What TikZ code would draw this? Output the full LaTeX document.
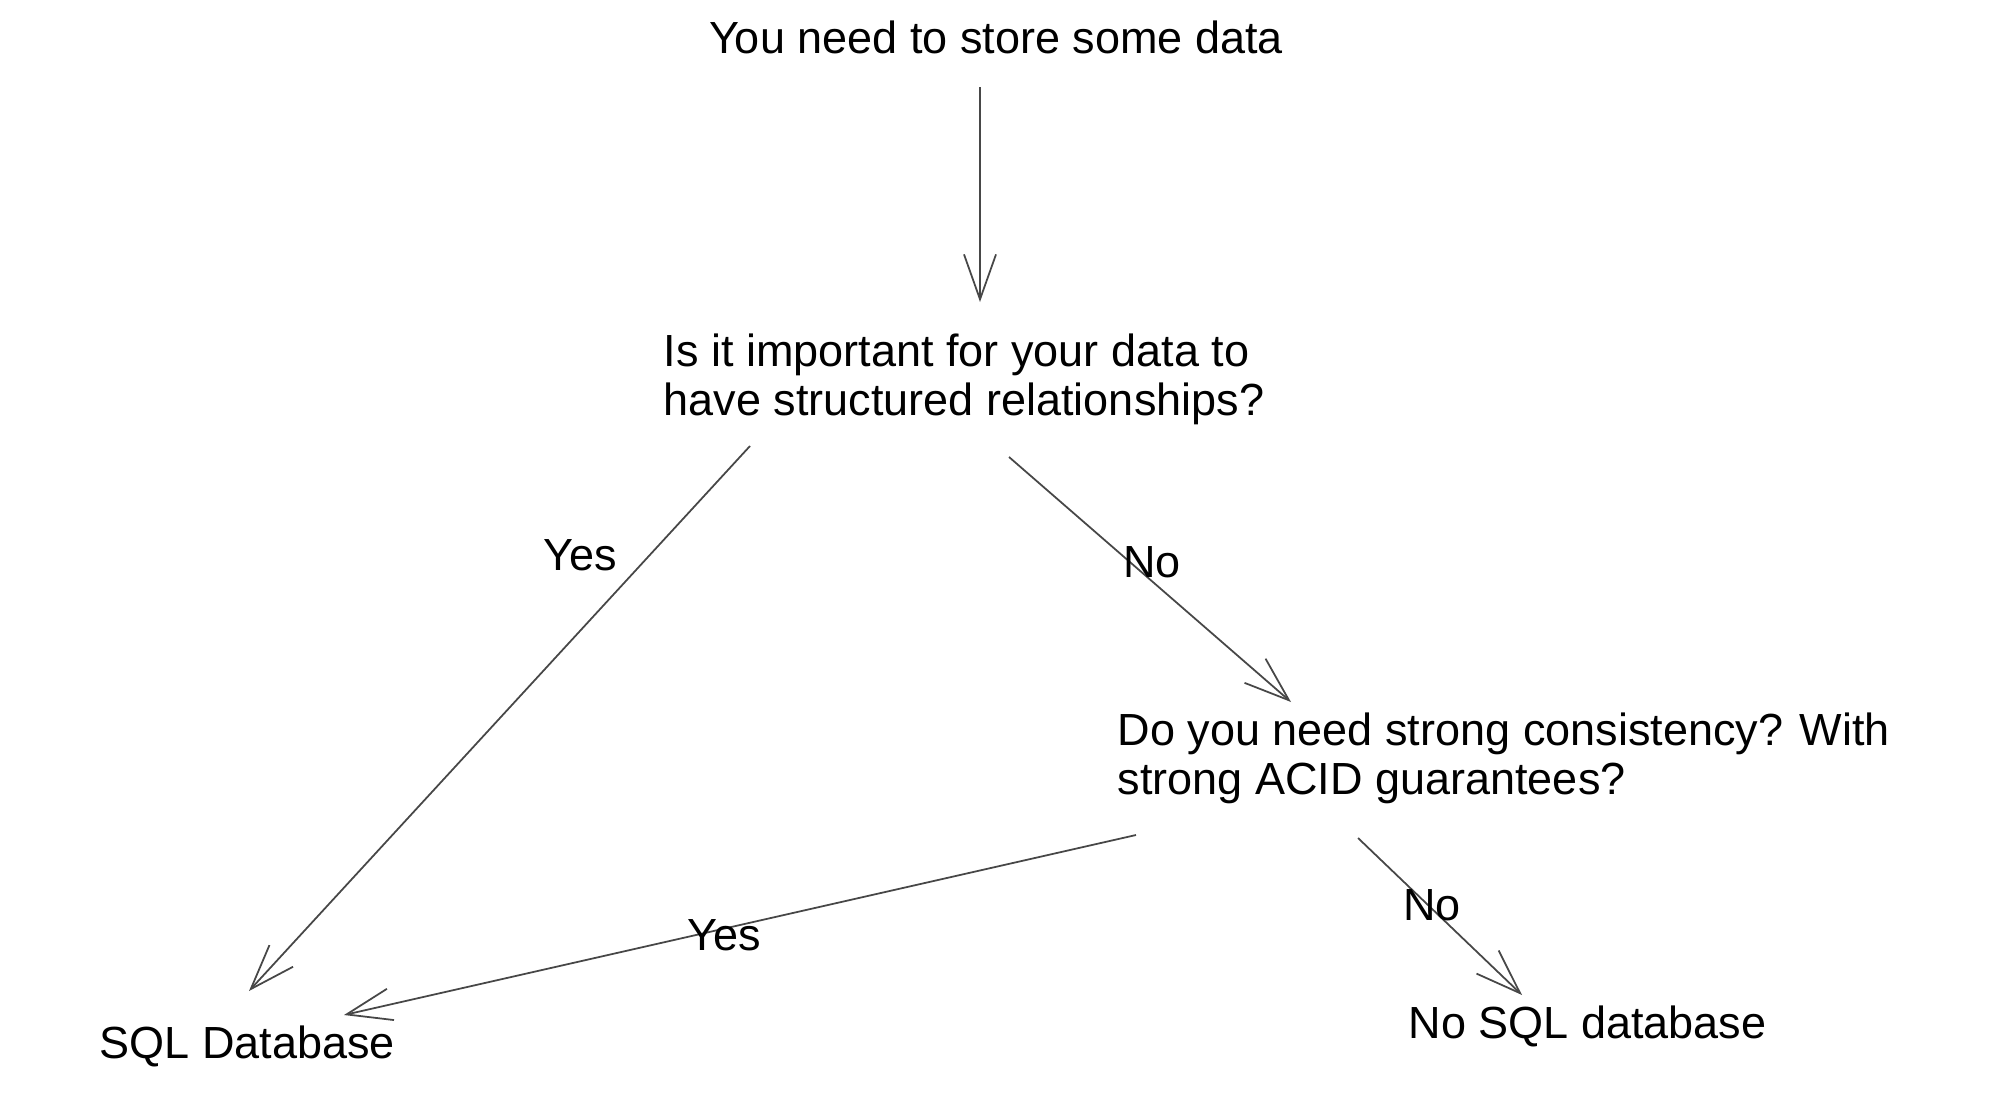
\documentclass[tikz,border=0pt]{standalone}
\usepackage{fontspec}
\setmainfont{Liberation Sans}
\usetikzlibrary{arrows.meta,calc}
\begin{document}
\begin{tikzpicture}[x=0.01cm,y=-0.01cm,
  txt/.style={inner sep=0pt, font=\fontsize{12.8}{14}\selectfont, align=left, text=black},
  lbl/.style={inner sep=0pt, font=\fontsize{12.8}{14}\selectfont, text=black},
  conn/.style={draw=black!72, line width=0.5pt, -{Straight Barb[length=0.45cm,width=0.32cm]}}]
\useasboundingbox[fill=white] (0,0) rectangle (2000,1112);
% nodes
\node[txt, anchor=center] (top) at (996,37) {You need to store some data};
\node[txt, anchor=west] (q1) at (663,379) {Is it important for your data to\\have structured relationships?};
\node[txt, anchor=west] (q2) at (1117,758) {Do you need strong consistency? With\\strong ACID guarantees?};
\node[txt, anchor=west] (sql) at (99,1046) {SQL Database};
\node[txt, anchor=west] (nosql) at (1408,1026) {No SQL database};
% connectors
\draw[conn] ($(top.center)+(-16,50)$) -- ($(q1.west)+(317,-77)$);
\draw[conn] ($(q1.west)+(87,67)$) -- ($(sql.west)+(150,-55)$);
\draw[conn] ($(q1.west)+(346,78)$) -- ($(q2.west)+(174,-56)$);
\draw[conn] ($(q2.west)+(19,77)$) -- ($(sql.west)+(245,-31)$);
\draw[conn] ($(q2.west)+(241,80)$) -- ($(nosql.west)+(114,-31)$);
% labels
\node[lbl] (y1) at (580,555) {Yes};
\node[lbl] (n1) at (1152,562) {No};
\node[lbl] (y2) at (724,935) {Yes};
\node[lbl] (n2) at (1432,905) {No};
\end{tikzpicture}
\end{document}
